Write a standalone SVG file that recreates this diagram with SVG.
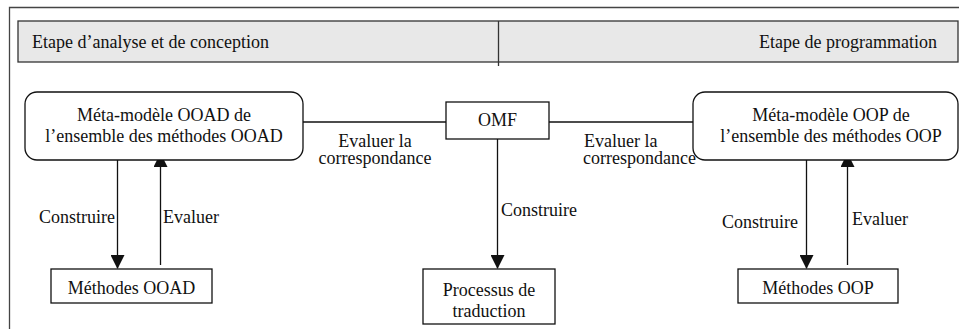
<svg xmlns="http://www.w3.org/2000/svg" width="959" height="329" viewBox="0 0 959 329" font-family="'Liberation Serif', Tinos, 'Times New Roman', serif" font-size="18">
<defs>
<style>
text{fill:#111}
.box{fill:#fff;stroke:#111;stroke-width:1.3}
.ln{fill:none;stroke:#111;stroke-width:1.3}
.mid{text-anchor:middle}
</style>
<marker id="ah" viewBox="0 0 14 14" refX="13" refY="7" markerWidth="14" markerHeight="14" markerUnits="userSpaceOnUse" orient="auto">
<path d="M0,0 L14,7 L0,14 Z" fill="#111"/>
</marker>
</defs>
<rect width="959" height="329" fill="#fff"/>
<g id="frame">
<path d="M9.5,329 V7.5 H959" fill="none" stroke="#444" stroke-width="1.3"/>
<rect x="18" y="21" width="940" height="41" fill="#e8e8e8" stroke="#333" stroke-width="1.3"/>
<line x1="498.5" y1="21" x2="498.5" y2="66" stroke="#333" stroke-width="1.3"/>
<text x="32" y="48">Etape d’analyse et de conception</text>
<text x="937" y="48" text-anchor="end">Etape de programmation</text>
</g>
<g id="connectors">
<line class="ln" x1="303" y1="122" x2="446" y2="122"/>
<line class="ln" x1="549" y1="122" x2="693" y2="122"/>
<line class="ln" x1="117.5" y1="154" x2="117.5" y2="268" marker-end="url(#ah)"/>
<line class="ln" x1="160.5" y1="265" x2="160.5" y2="154" marker-end="url(#ah)"/>
<line class="ln" x1="497.5" y1="139" x2="497.5" y2="268" marker-end="url(#ah)"/>
<line class="ln" x1="806.5" y1="154" x2="806.5" y2="268" marker-end="url(#ah)"/>
<line class="ln" x1="847.5" y1="265" x2="847.5" y2="154" marker-end="url(#ah)"/>
<text class="mid" x="375" y="147">Evaluer la</text>
<text class="mid" x="375" y="164">correspondance</text>
<text x="584" y="147">Evaluer la</text>
<text x="583" y="164">correspondance</text>
<text x="39" y="223">Construire</text>
<text x="163" y="223">Evaluer</text>
<text x="501" y="216">Construire</text>
<text x="722" y="228">Construire</text>
<text x="852" y="225">Evaluer</text>
</g>
<g id="meta-ooad">
<rect class="box" x="25" y="92" width="278" height="68" rx="12"/>
<text class="mid" x="164" y="121">Méta-modèle OOAD de</text>
<text class="mid" x="164" y="142">l’ensemble des méthodes OOAD</text>
</g>
<g id="omf">
<rect class="box" x="446" y="102" width="103" height="37"/>
<text class="mid" x="497.5" y="126">OMF</text>
</g>
<g id="meta-oop">
<rect class="box" x="693" y="92" width="265" height="68" rx="12"/>
<text class="mid" x="831" y="121">Méta-modèle OOP de</text>
<text class="mid" x="831" y="142">l’ensemble des méthodes OOP</text>
</g>
<g id="methodes-ooad">
<rect class="box" x="51" y="269" width="161" height="34"/>
<text class="mid" x="131.5" y="294">Méthodes OOAD</text>
</g>
<g id="processus">
<rect class="box" x="423" y="269" width="132" height="55"/>
<text class="mid" x="489" y="296">Processus de</text>
<text class="mid" x="489" y="317">traduction</text>
</g>
<g id="methodes-oop">
<rect class="box" x="738" y="269" width="160" height="34"/>
<text class="mid" x="818" y="294">Méthodes OOP</text>
</g>
</svg>
